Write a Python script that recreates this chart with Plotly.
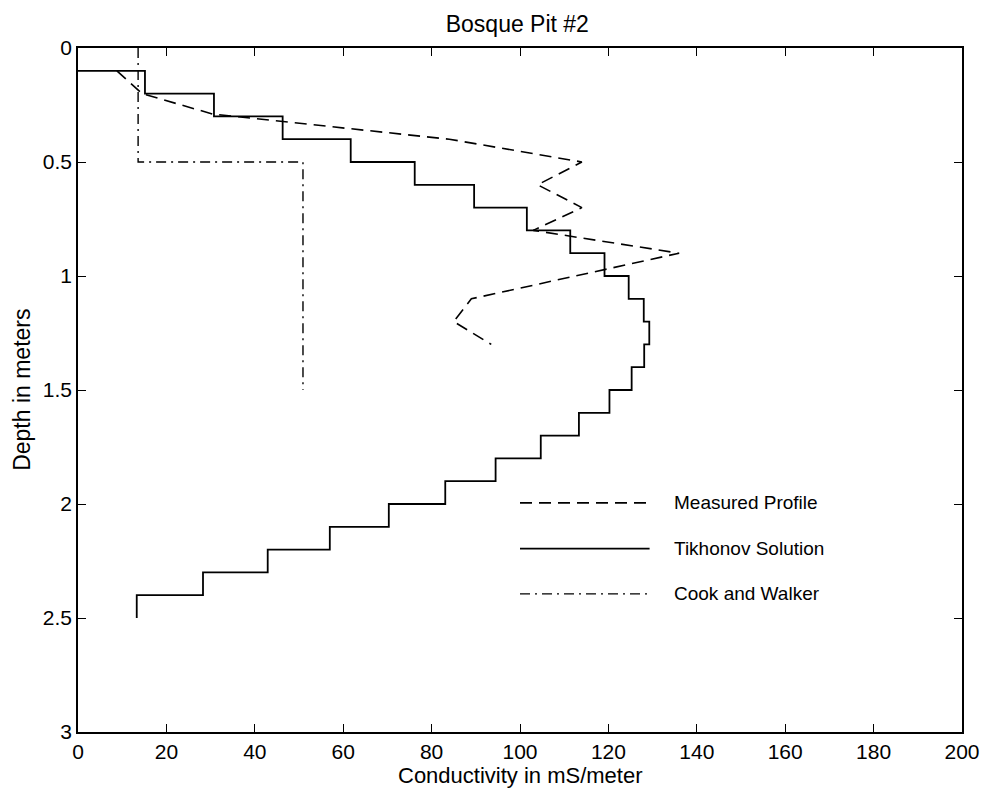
import plotly.graph_objects as go

# ---------------- data ----------------
# Measured profile (conductivity mS/m, depth m)
measured_cond = [8.8, 14.5, 30.5, 84.0, 114.0, 104.0, 114.0, 103.0, 136.0, 89.0, 85.0, 93.5]
measured_depth = [0.1, 0.2, 0.29, 0.4, 0.5, 0.6, 0.7, 0.8, 0.9, 1.1, 1.2, 1.3]

# Tikhonov solution: layer values, layer bottom depths (first layer top at 0.1)
tikh_top = 0.1
tikh_cond = [15.15, 30.76, 46.30, 61.70, 76.18, 89.62, 101.55, 111.37, 119.12, 124.59,
             128.0, 129.25, 128.1, 125.26, 120.24, 113.33, 104.7, 94.48, 83.09, 70.32,
             56.97, 42.92, 28.28, 13.29]
tikh_bottom = [0.2, 0.3, 0.4, 0.5, 0.6, 0.7, 0.8, 0.9, 1.0, 1.1, 1.2, 1.3, 1.4, 1.5,
               1.6, 1.7, 1.8, 1.9, 2.0, 2.1, 2.2, 2.3, 2.4, 2.5]

# Cook and Walker two-layer model
cw_cond = [13.6, 50.9, 50.9]
cw_depth = [0.0, 0.5, 1.5]

x_ticks = [0, 20, 40, 60, 80, 100, 120, 140, 160, 180, 200]
y_ticks = [0, 0.5, 1, 1.5, 2, 2.5, 3]
y_tick_text = ["0", "0.5", "1", "1.5", "2", "2.5", "3"]

legend_names = ["Measured Profile", "Tikhonov Solution", "Cook and Walker"]

FONT = "Liberation Sans, Arial, Helvetica, sans-serif"
MEAS_DASH = "12px,7px"
CW_DASH = "10px,5px,2px,5px"

fig = go.Figure()

fig.add_trace(go.Scatter(
    x=measured_cond, y=measured_depth, mode="lines",
    line=dict(color="black", width=1.6, dash=MEAS_DASH),
    name=legend_names[0], showlegend=False))

fig.add_trace(go.Scatter(
    x=[0] + tikh_cond, y=[tikh_top] + tikh_bottom, mode="lines",
    line=dict(color="black", width=1.8, shape="hv"),
    name=legend_names[1], showlegend=False))

fig.add_trace(go.Scatter(
    x=cw_cond, y=cw_depth, mode="lines",
    line=dict(color="black", width=1.4, dash=CW_DASH, shape="vh"),
    name=legend_names[2], showlegend=False))

# ---- manual legend (paper coordinates) ----
leg_x0, leg_x1, leg_tx = 0.500, 0.6466, 0.6725
leg_ys = [0.335, 0.268, 0.202]
leg_styles = [dict(dash=MEAS_DASH, width=1.6), dict(dash="solid", width=1.8),
              dict(dash=CW_DASH, width=1.4)]
shapes = []
annotations = []
for name, yy, st in zip(legend_names, leg_ys, leg_styles):
    shapes.append(dict(type="line", xref="paper", yref="paper",
                       x0=leg_x0, x1=leg_x1, y0=yy, y1=yy,
                       line=dict(color="black", width=st["width"], dash=st["dash"])))
    annotations.append(dict(xref="paper", yref="paper", x=leg_tx, y=yy,
                            text=name, showarrow=False, xanchor="left", yanchor="middle",
                            font=dict(family=FONT, size=19, color="black")))

# axis titles
annotations.append(dict(xref="paper", yref="paper", x=0.5, y=-0.0635,
                        text="Conductivity in mS/meter", showarrow=False,
                        xanchor="center", yanchor="middle",
                        font=dict(family=FONT, size=22, color="black")))
annotations.append(dict(xref="paper", yref="paper", x=-0.0635, y=0.5,
                        text="Depth in meters", showarrow=False, textangle=-90,
                        xanchor="center", yanchor="middle",
                        font=dict(family=FONT, size=23, color="black")))

axis_common = dict(showline=True, linecolor="black", linewidth=1.5, mirror="ticks",
                   ticks="inside", ticklen=8, tickwidth=1.3, tickcolor="black",
                   showgrid=False, zeroline=False,
                   tickfont=dict(family=FONT, size=21, color="black"))

fig.update_layout(
    width=992, height=796,
    margin=dict(l=78, r=26, t=48, b=64),
    paper_bgcolor="white", plot_bgcolor="white",
    title=dict(text="Bosque Pit #2", x=0.5215, xanchor="center",
               y=1 - 24 / 796, yanchor="middle",
               font=dict(family=FONT, size=23, color="black")),
    xaxis=dict(range=[0, 200], tickvals=x_ticks, ticklabelstandoff=0, **axis_common),
    yaxis=dict(range=[3, 0], tickvals=y_ticks, ticktext=y_tick_text, **axis_common),
    shapes=shapes, annotations=annotations,
    showlegend=False,
)

fig.write_html("out.html")
